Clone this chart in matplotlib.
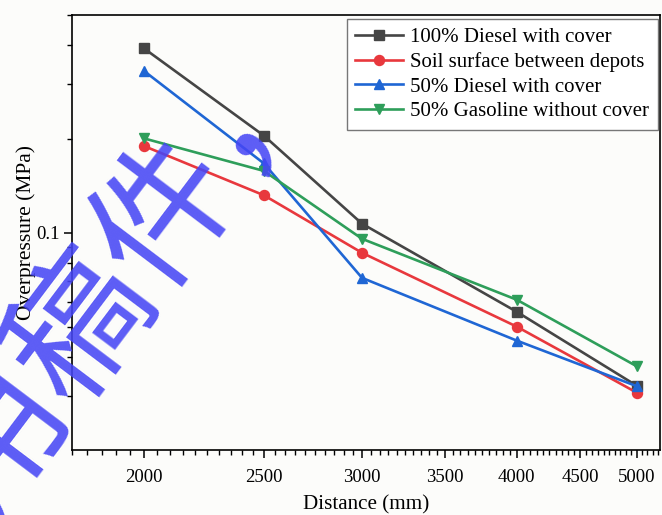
import matplotlib
matplotlib.use('Agg')

import matplotlib.pyplot as plt
from matplotlib.ticker import FixedLocator, LogLocator, MultipleLocator, NullFormatter

# distances (mm) and overpressure (MPa)
distance = [2000, 2500, 3000, 4000, 5000]
diesel100_cover = [0.391, 0.205, 0.107, 0.0558, 0.0323]
soil_surface = [0.190, 0.132, 0.0863, 0.0500, 0.0307]
diesel50_cover = [0.331, 0.167, 0.0717, 0.0451, 0.0322]
gasoline50_nocover = [0.201, 0.158, 0.0957, 0.0610, 0.0373]

series_names = ['100% Diesel with cover', 'Soil surface between depots',
                '50% Diesel with cover', '50% Gasoline without cover']

xticks = [2000, 2500, 3000, 3500, 4000, 4500, 5000]
xtick_labels = ['2000', '2500', '3000', '3500', '4000', '4500', '5000']
yticks = [0.1]
ytick_labels = ['0.1']

watermark = '用稿件，'


def main():
    plt.rcParams['font.family'] = ['Liberation Serif', 'DejaVu Serif']
    plt.rcParams['mathtext.default'] = 'regular'

    fig = plt.figure(figsize=(6.62, 5.15), dpi=100, facecolor='#fcfcfa')
    ax = fig.add_axes([72 / 662, 65 / 515, 588 / 662, 435 / 515])
    ax.set_facecolor('#fcfcfa')

    styles = [('#454545', 's'), ('#e8383d', 'o'), ('#1f66d4', '^'), ('#2e9e5a', 'v')]
    data = [diesel100_cover, soil_surface, diesel50_cover, gasoline50_nocover]
    for vals, name, (col, mk) in zip(data, series_names, styles):
        ax.plot(distance, vals, color=col, marker=mk, markersize=7.2, lw=1.9, label=name)

    ax.set_xscale('log')
    ax.set_yscale('log')
    ax.set_xlim(1750, 5220)
    ax.set_ylim(0.0201, 0.5)

    ax.xaxis.set_major_locator(FixedLocator(xticks))
    ax.set_xticks(xticks, xtick_labels)
    ax.xaxis.set_minor_locator(MultipleLocator(50))
    ax.xaxis.set_minor_formatter(NullFormatter())
    ax.set_yticks(yticks, ytick_labels)
    ax.yaxis.set_minor_locator(LogLocator(base=10, subs=range(2, 10)))
    ax.yaxis.set_minor_formatter(NullFormatter())

    ax.tick_params(which='major', direction='out', length=6, width=1.1, labelsize=13.5, pad=8)
    ax.tick_params(axis='y', which='major', pad=3)
    ax.tick_params(which='minor', direction='out', length=3.5, width=1.0)
    for sp in ax.spines.values():
        sp.set_linewidth(1.2)

    ax.set_xlabel('Distance (mm)', fontsize=15.2, labelpad=6.5)
    ax.set_ylabel('Overpressure (MPa)', fontsize=15.5, labelpad=0)

    leg = ax.legend(loc='upper right', bbox_to_anchor=(0.997, 0.991), borderaxespad=0,
                    fontsize=15, fancybox=False, edgecolor='#777777', framealpha=1,
                    handlelength=2.3, handletextpad=0.35, labelspacing=0.24, borderpad=0.42)
    leg.get_frame().set_linewidth(1.0)

    # blue watermark over the plot
    fig.text(125 / 662, 1 - 270 / 515, watermark, fontsize=102, color='#4646f5', alpha=0.88,
             rotation=53, ha='center', va='center', rotation_mode='anchor',
             family=['Noto Sans CJK SC', 'DejaVu Sans'], zorder=10)

    fig.savefig('out.png', dpi=100, facecolor=fig.get_facecolor())


if __name__ == '__main__':
    main()
